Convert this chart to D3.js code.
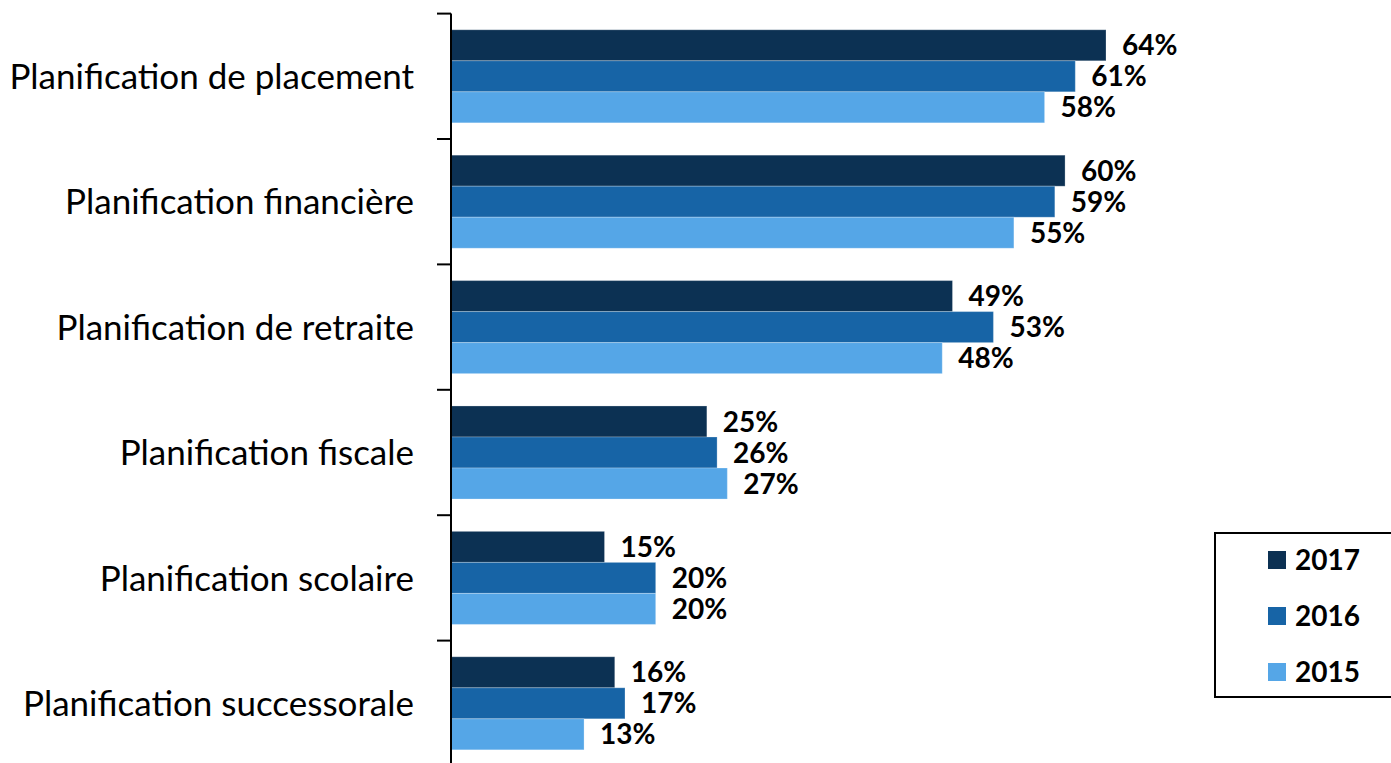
<!DOCTYPE html>
<html>
<head>
<meta charset="utf-8">
<script src="https://cdn.jsdelivr.net/npm/d3@7"></script>
<style>
  body { margin: 0; background: #fff; }
  svg { display: block; }
  .cat { font-family: Lato, "Open Sans", sans-serif; font-size: 35px; fill: #000; }
  .val, .leg { font-family: Lato, "Open Sans", sans-serif; font-size: 28px; font-weight: bold; fill: #000; }
</style>
</head>
<body>
<div id="chart"></div>
<script>
var categories = ["Planification de placement", "Planification financière", "Planification de retraite",
	"Planification fiscale", "Planification scolaire", "Planification successorale"];
var years = ["2017", "2016", "2015"];
var values2017 = [64, 60, 49, 25, 15, 16];
var values2016 = [61, 59, 53, 26, 20, 17];
var values2015 = [58, 55, 48, 27, 20, 13];
var colors = ["#0c3153", "#1764a6", "#55a6e7"];

var series = [values2017, values2016, values2015];

var width = 1391, height = 763;
var x0 = 451, bandTop = 13.6, bandStep = 125.4;

var svg = d3.select("#chart").append("svg")
	.attr("width", width)
	.attr("height", height);

var x = d3.scaleLinear().domain([0, 64]).range([x0, 1106]);

var y = d3.scaleBand()
	.domain(categories)
	.range([bandTop, bandTop + bandStep * categories.length])
	.paddingInner(0.258)
	.paddingOuter(0.129);

var inner = d3.scaleBand().domain(years).range([0, y.bandwidth()]);

var groups = svg.append("g").selectAll("g")
	.data(categories)
	.enter().append("g")
	.attr("transform", function(d){ return "translate(0," + y(d) + ")"; });

groups.each(function(cat, ci){
	var g = d3.select(this);
	years.forEach(function(yr, si){
		var v = series[si][ci];
		g.append("rect")
			.attr("x", x(0))
			.attr("y", inner(yr))
			.attr("width", x(v) - x(0))
			.attr("height", inner.bandwidth())
			.attr("fill", colors[si])
			.attr("stroke", "rgba(255,255,255,0.25)")
			.attr("stroke-width", 1);
		g.append("text")
			.attr("class", "val")
			.attr("x", x(v) + 16)
			.attr("y", inner(yr) + inner.bandwidth() / 2)
			.attr("dy", "0.36em")
			.text(v + "%");
	});
});

// category axis
var yAxis = d3.axisLeft(y).tickSize(0).tickPadding(37).tickFormat(function(d){ return d; });
var axisG = svg.append("g")
	.attr("transform", "translate(" + x0 + ",0)")
	.call(yAxis);
axisG.select(".domain").remove();
axisG.selectAll("text").attr("class", "cat").attr("dy", "0.36em").attr("font-size", null).attr("font-family", null);

// axis line + boundary ticks
var boundaries = d3.range(categories.length + 1).map(function(i){ return bandTop + bandStep * i; });
svg.append("line")
	.attr("x1", x0).attr("x2", x0)
	.attr("y1", bandTop).attr("y2", height)
	.attr("stroke", "#000").attr("stroke-width", 2);
svg.append("g").selectAll("line")
	.data(boundaries)
	.enter().append("line")
	.attr("x1", x0 - 14).attr("x2", x0)
	.attr("y1", function(d){ return d; }).attr("y2", function(d){ return d; })
	.attr("stroke", "#000").attr("stroke-width", 2);

// legend
var legend = svg.append("g").attr("transform", "translate(1215,533)");
legend.append("rect")
	.attr("x", 0).attr("y", 0)
	.attr("width", 190).attr("height", 164)
	.attr("fill", "#fff").attr("stroke", "#000").attr("stroke-width", 2);
var legItems = legend.selectAll(".item")
	.data(years)
	.enter().append("g")
	.attr("class", "item")
	.attr("transform", function(d, i){ return "translate(53," + (27 + i * 56) + ")"; });
legItems.append("rect")
	.attr("width", 18).attr("height", 18)
	.attr("y", -9)
	.attr("fill", function(d, i){ return colors[i]; });
legItems.append("text")
	.attr("class", "leg")
	.attr("x", 27)
	.attr("y", 0)
	.attr("dy", "0.36em")
	.text(function(d){ return d; });
</script>
</body>
</html>
